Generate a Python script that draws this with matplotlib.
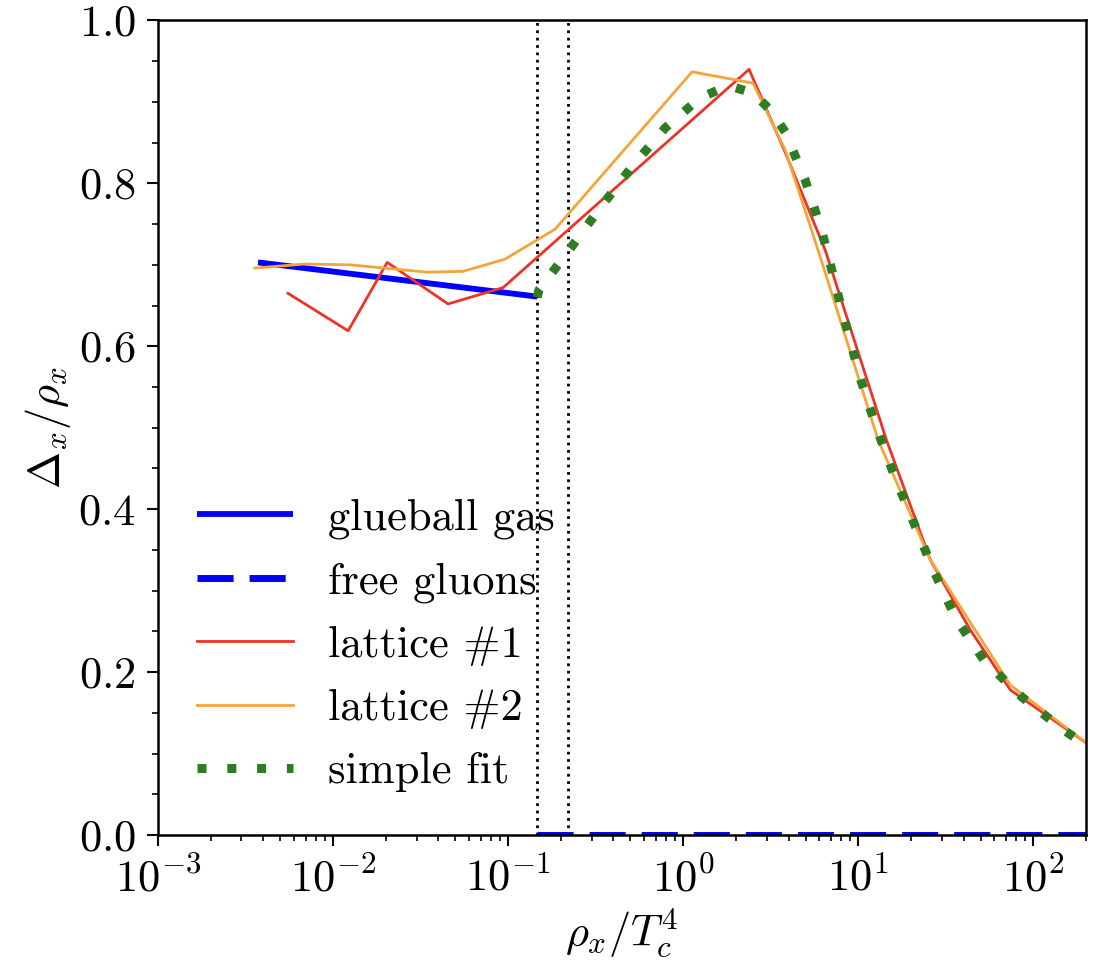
import matplotlib
matplotlib.use("Agg")
import matplotlib.pyplot as plt
from matplotlib.ticker import MultipleLocator, LogLocator

plt.rcParams["font.family"] = "serif"
plt.rcParams["font.serif"] = ["cmr10"]
plt.rcParams["mathtext.fontset"] = "cm"
plt.rcParams["axes.formatter.use_mathtext"] = True
plt.rcParams["font.size"] = 32

# glueball gas (low density side)
glue_x = [0.00373, 0.1466]
glue_y = [0.703, 0.661]

# free gluons (high density side)
free_x = [0.1466, 200.0]
free_y = [0.0, 0.0]

# lattice #1
lat1_x = [0.00553, 0.0122, 0.0204, 0.0454, 0.0936, 2.38, 3.83, 6.48, 14.5, 25.8, 43.6, 74.0, 201.0]
lat1_y = [0.665, 0.619, 0.703, 0.652, 0.672, 0.940, 0.838, 0.718, 0.485, 0.338, 0.252, 0.178, 0.113]

# lattice #2
lat2_x = [0.00358, 0.00692, 0.0125, 0.0344, 0.0553, 0.0962, 0.186, 1.125, 2.51, 3.83, 5.9, 13.0, 25.8, 74.0, 201.0]
lat2_y = [0.696, 0.701, 0.700, 0.691, 0.692, 0.707, 0.744, 0.937, 0.923, 0.841, 0.718, 0.485, 0.338, 0.184, 0.113]

# simple fit
fit_x = [0.1466, 0.150, 0.223, 0.336, 0.512, 0.789, 1.25, 1.81, 2.51, 3.18, 3.83, 4.98, 6.15,
         7.89, 10.3, 12.7, 16.1, 20.9, 27.2, 36.3, 52.5, 86.5, 146.6, 201.0]
fit_y = [0.660, 0.669, 0.718, 0.770, 0.821, 0.868, 0.905, 0.920, 0.911, 0.889, 0.863, 0.804, 0.744,
         0.653, 0.560, 0.500, 0.441, 0.382, 0.323, 0.265, 0.214, 0.169, 0.130, 0.110]

# transition region boundaries
vlines_x = [0.1466, 0.220]

fig = plt.figure(figsize=(11.07, 9.61), dpi=100)
ax = fig.add_axes([0.1427, 0.1311, 0.8383, 0.8476])

for xv in vlines_x:
    ax.axvline(xv, color="black", linestyle=":", linewidth=2.0, zorder=1)

ax.plot(glue_x, glue_y, color="#0000ff", linewidth=4.2, solid_capstyle="butt", label="glueball gas")
ax.plot(free_x, free_y, color="#0000ff", linewidth=5.0, dashes=(5.2, 2.3), label="free gluons")
ax.plot(lat1_x, lat1_y, color="#ec3325", linewidth=2.0, label="lattice #1")
ax.plot(lat2_x, lat2_y, color="#f5a43a", linewidth=2.0, label="lattice #2")
ax.plot(fit_x, fit_y, color="#2f7d23", linewidth=6.5, dashes=(1, 2.3), label="simple fit")

ax.set_xscale("log")
ax.set_xlim(1e-3, 200)
ax.set_ylim(0, 1)
ax.yaxis.set_major_locator(MultipleLocator(0.2))
ax.yaxis.set_minor_locator(MultipleLocator(0.05))
ax.xaxis.set_major_locator(LogLocator(base=10, numticks=10))
ax.xaxis.set_minor_locator(LogLocator(base=10, subs=range(2, 10), numticks=20))

ax.tick_params(which="major", direction="out", length=8, width=1.5, pad=8)
ax.tick_params(which="minor", direction="out", length=4.5, width=1.2)
for sp in ax.spines.values():
    sp.set_linewidth(1.8)

ax.set_xlabel(r"$\rho_x/T_c^4$", labelpad=4)
ax.set_ylabel(r"$\Delta_x/\rho_x$")

ax.legend(loc="lower left", bbox_to_anchor=(0.008, 0.014), frameon=False,
          handlelength=2.18, handletextpad=0.77, labelspacing=0.52, borderpad=0.2)

fig.savefig("out.png", dpi=100)
